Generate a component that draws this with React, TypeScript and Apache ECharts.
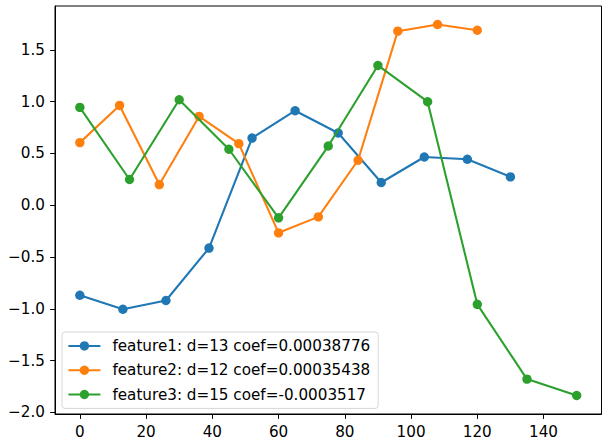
import React, { useEffect, useRef } from "react";
import * as echarts from "echarts";

// Lag positions (in samples) and values of each feature
const feature1X = [0, 13, 26, 39, 52, 65, 78, 91, 104, 117, 130];
const feature1Y = [-0.87, -1.005, -0.92, -0.414, 0.648, 0.912, 0.697, 0.219, 0.465, 0.443, 0.273];

const feature2X = [0, 12, 24, 36, 48, 60, 72, 84, 96, 108, 120];
const feature2Y = [0.604, 0.963, 0.199, 0.857, 0.594, -0.267, -0.113, 0.434, 1.68, 1.744, 1.689];

const feature3X = [0, 15, 30, 45, 60, 75, 90, 105, 120, 135, 150];
const feature3Y = [0.944, 0.248, 1.018, 0.54, -0.122, 0.571, 1.349, 0.999, -0.957, -1.679, -1.837];

const seriesNames = [
  "feature1: d=13 coef=0.00038776",
  "feature2: d=12 coef=0.00035438",
  "feature3: d=15 coef=-0.0003517",
];
const seriesColors = ["#1f77b4", "#ff7f0e", "#2ca02c"];

const xTicks = [0, 20, 40, 60, 80, 100, 120, 140];
const yTicks = [-2.0, -1.5, -1.0, -0.5, 0.0, 0.5, 1.0, 1.5];

const FONT = "DejaVu Sans";
const FS = 15.2;
const MARKER = 9.4;

function zip(xs: number[], ys: number[]): number[][] {
  return xs.map((x, i) => [x, ys[i]]);
}

export default function App() {
  const ref = useRef<HTMLDivElement>(null);

  useEffect(() => {
    if (!ref.current) return;
    const chart = echarts.init(ref.current, undefined, { renderer: "svg" });

    const lineSeries = [
      zip(feature1X, feature1Y),
      zip(feature2X, feature2Y),
      zip(feature3X, feature3Y),
    ].map((data, i) => ({
      type: "line" as const,
      name: seriesNames[i],
      data,
      symbol: "circle",
      symbolSize: MARKER,
      showAllSymbol: true,
      color: seriesColors[i],
      lineStyle: { width: 2.08, color: seriesColors[i] },
      itemStyle: { color: seriesColors[i] },
      emphasis: { disabled: true },
      z: 2 + i,
    }));

    const axisCommon = {
      type: "value" as const,
      axisLine: { show: true, onZero: false, lineStyle: { color: "#000000", width: 1 } },
      splitLine: { show: false },
    };

    chart.setOption({
      animation: false,
      backgroundColor: "#ffffff",
      grid: {
        left: 55,
        right: 0.5,
        top: 6,
        bottom: 25,
        show: true,
        borderColor: "#000000",
        borderWidth: 1,
        backgroundColor: "transparent",
      },
      legend: {
        orient: "vertical",
        left: 62,
        top: 332,
        padding: [6.4, 8, 6.4, 5.4],
        itemWidth: 32,
        itemHeight: MARKER / 0.8,
        itemGap: 23.3 - 14,
        backgroundColor: "rgba(255,255,255,0.8)",
        borderColor: "#d6d6d6",
        borderWidth: 1,
        borderRadius: 3,
        selectedMode: false,
        textStyle: {
          fontFamily: FONT,
          fontSize: FS,
          lineHeight: 14,
          color: "#000000",
          padding: [0, 0, 0, 7],
        },
        data: seriesNames,
      },
      xAxis: {
        ...axisCommon,
        min: -7.5,
        max: 157.5,
        axisTick: {
          show: true,
          inside: false,
          length: 4.9,
          lineStyle: { color: "#000000", width: 1 },
          customValues: xTicks,
        },
        axisLabel: {
          show: true,
          margin: 10,
          fontFamily: FONT,
          fontSize: FS,
          color: "#000000",
          customValues: xTicks,
          formatter: (v: number) => String(Math.round(v)),
        },
      },
      yAxis: {
        ...axisCommon,
        min: -2.016,
        max: 1.923,
        axisTick: {
          show: true,
          inside: false,
          length: 4.9,
          lineStyle: { color: "#000000", width: 1 },
          customValues: yTicks,
        },
        axisLabel: {
          show: true,
          margin: 10,
          fontFamily: FONT,
          fontSize: FS,
          color: "#000000",
          customValues: yTicks,
          formatter: (v: number) => v.toFixed(1).replace("-", "\u2212"),
        },
      },
      series: lineSeries,
    });

    return () => {
      chart.dispose();
    };
  }, []);

  return (
    <div
      ref={ref}
      style={{ position: "fixed", left: 0, top: 0, width: 602, height: 439, background: "#fff" }}
    />
  );
}
